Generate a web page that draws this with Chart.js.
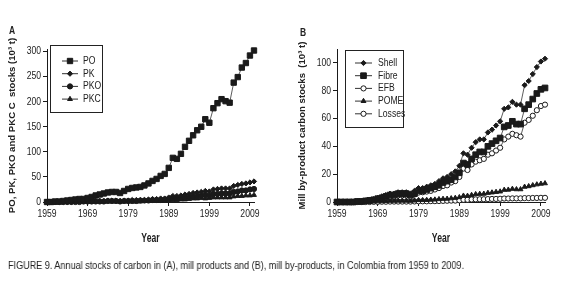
<!DOCTYPE html>
<html><head><meta charset="utf-8">
<script src="https://cdn.jsdelivr.net/npm/chart.js@4"></script>
<style>
html,body{margin:0;padding:0;background:#fff;width:574px;height:290px;overflow:hidden;}
#wa{position:absolute;left:0;top:0;width:290px;height:250px;}
#wb{position:absolute;left:290px;top:0;width:284px;height:250px;}
.lab{position:absolute;font-family:'Liberation Sans',sans-serif;font-weight:bold;font-size:10px;color:#222;transform:scaleX(0.85);transform-origin:left top;}
#cap{position:absolute;left:8px;top:260px;font-family:'Liberation Sans',sans-serif;font-size:10px;color:#222;white-space:nowrap;transform-origin:left top;will-change:transform;-webkit-font-smoothing:antialiased;}
</style></head><body>
<div id="wa"><canvas id="ca" width="290" height="250"></canvas></div>
<div id="wb"><canvas id="cb" width="284" height="250"></canvas></div>
<div class="lab" style="left:9px;top:25px;">A</div>
<div class="lab" style="left:300px;top:27px;">B</div>
<div id="cap"><span id="capt">FIGURE 9. Annual stocks of carbon in (A), mill products and (B), mill by-products, in Colombia from 1959 to 2009.</span></div>
<script>
// ---- data ----
const years = [];
for (let y = 1959; y <= 2010; y++) years.push(y);
const xTicks = [1959, 1969, 1979, 1989, 1999, 2009];
const yTicksA = [0, 50, 100, 150, 200, 250, 300];
const yTicksB = [0, 20, 40, 60, 80, 100];

// Panel A: mill products (10^3 t)
const PO  = [0,0,1,1,2,3,4,5,6,6,8,10,13,15,17,19,20,20,18,22,26,28,29,30,33,37,42,46,52,56,68,88,86,96,110,122,133,143,150,165,158,187,197,205,201,198,238,249,268,277,292,302];
const PK  = [0,0,0,0,0,0,0,1,1,1,1,1,2,2,2,3,3,3,2,3,3,4,4,4,4,5,6,6,7,7,9,12,12,13,15,16,18,19,20,22,21,25,26,27,27,27,32,34,36,37,39,41];
const PKO = [0,0,0,0,0,0,0,0,0,1,1,1,1,1,1,2,2,2,1,2,2,2,2,3,3,3,4,4,4,5,6,7,7,8,9,10,11,12,13,14,13,16,16,17,17,17,20,21,23,23,25,26];
const PKC = [0,0,0,0,0,0,0,0,0,0,0,0,1,1,1,1,1,1,1,1,1,1,1,1,2,2,2,2,2,3,4,4,4,5,5,6,7,7,8,7,8,9,9,9,9,9,11,12,12,13,13,14];

// Panel B: mill by-products (10^3 t)
const Shell  = [0,0,0,0,0,0.5,0.5,1,1.5,2,3,4,5,6,6,7,7,7,6,8,10,10,11,12,13,15,17,18,20,22,26,35,34,39,43,45,45,50,52,55,58,67,68,72,70,70,84,87,92,97,101,103];
const Fibre  = [0,0,0,0,0,0.4,0.4,0.8,1.2,1.6,2.4,3,4,5,5,6,6,6,5,6,8,8,9,10,11,12,14,15,16,18,21,28,27,31,34,36,36,40,42,44,46,54,55,58,56,56,67,70,74,78,81,82];
const EFB    = [0,0,0,0,0,0.3,0.3,0.7,1,1.4,2,2.7,3.4,4,4,4.8,4.8,4.8,4,5.4,6.8,7,7.5,8,9,10,11.5,12,14,15,18,24,23,27,29,30,31,34,35,37,39,45,47,49,48,47,57,59,62,66,69,70];
const POME   = [0,0,0,0,0,0,0,0,0,0.3,0.4,0.5,0.6,0.8,0.8,0.9,0.9,0.9,0.8,1,1.3,1.3,1.4,1.6,1.7,2,2.2,2.3,2.6,2.9,3.4,4.5,4.4,5,5.6,5.8,5.9,6.5,6.8,7.2,7.5,8.7,8.8,9.4,9.1,9.1,10.9,11.3,12,12.6,13.1,13.4];
const Losses = [0,0,0,0,0,0,0,0,0,0.1,0.1,0.2,0.2,0.3,0.3,0.3,0.3,0.3,0.3,0.4,0.5,0.5,0.5,0.6,0.6,0.7,0.8,0.9,1,1,1.2,1.6,1.6,1.8,1.9,2,2,2.1,2.2,2.2,2.3,2.5,2.5,2.6,2.6,2.6,2.8,2.8,2.9,2.9,3,3];

// ---- drawing ----
const NARROW = "'Liberation Sans', sans-serif";           // drawn condensed
const TITLEF = "'Liberation Sans', 'DejaVu Sans', sans-serif"; // drawn at normal width
const INK = '#1a1a1a';

// fit caption width to the reference's narrow face
(function(){
  const s = document.getElementById('capt');
  const w = s.getBoundingClientRect().width;
  document.getElementById('cap').style.transform = 'scaleX(' + (456 / w) + ')';
})();

const narrowText = {
  id: 'narrowText',
  beforeDraw(chart){
    const ctx = chart.ctx;
    if (ctx.__wrapped) return;
    ctx.__wrapped = true;
    const orig = ctx.fillText;
    ctx.fillText = function(t, x, y, mw){
      if (this.font.indexOf('DejaVu') >= 0) return orig.call(this, t, x, y);
      const sx = /bold/.test(this.font) ? 0.72 : 0.82;
      this.save(); this.translate(x, y); this.scale(sx, 1);
      orig.call(this, t, 0, 0);
      this.restore();
    };
  }
};

function pts(arr){ return arr.map((v,i)=>({x:years[i], y:v})); }
function ds(label, arr, style, r, fill){
  return {label, data: pts(arr), pointStyle: style, pointRadius: r, pointHoverRadius: r,
    borderColor: '#333', borderWidth: 0.8, pointBorderColor: INK, pointBorderWidth: 1,
    pointBackgroundColor: fill ? INK : '#fff', backgroundColor: fill ? INK : '#fff',
    tension: 0, clip: false};
}

const boxLegend = {
  id: 'boxLegend',
  afterDraw(chart, args, o){
    const ctx = chart.ctx;
    ctx.save();
    ctx.fillStyle = '#fff';
    ctx.fillRect(o.x, o.y, o.w, o.h);
    ctx.strokeStyle = '#222'; ctx.lineWidth = 1;
    ctx.strokeRect(o.x+0.5, o.y+0.5, o.w, o.h);
    chart.data.datasets.forEach((d, i) => {
      const y = o.row0 + i*o.step;
      ctx.strokeStyle = '#333'; ctx.lineWidth = 1;
      ctx.beginPath(); ctx.moveTo(o.lx0, y); ctx.lineTo(o.lx1, y); ctx.stroke();
      ctx.fillStyle = d.pointBackgroundColor; ctx.strokeStyle = d.pointBorderColor; ctx.lineWidth = 1;
      Chart.helpers.drawPoint(ctx, {pointStyle: d.pointStyle, radius: d.pointRadius, borderWidth: 1}, (o.lx0+o.lx1)/2, y);
      ctx.fillStyle = '#222'; ctx.font = '10.5px ' + NARROW; ctx.textBaseline = 'middle'; ctx.textAlign = 'left';
      ctx.fillText(d.label, o.tx, y);
    });
    ctx.restore();
  }
};

function makeChart(id, datasets, ymax, yTicks, ytitle, legend, padRight){
  return new Chart(document.getElementById(id), {
    type: 'line',
    data: {datasets},
    plugins: [narrowText, boxLegend],
    options: {
      responsive: false, animation: false,
      layout: {padding: {left: 7, top: 49, right: padRight, bottom: 0}},
      plugins: {legend: {display: false}, tooltip: {enabled: false}, boxLegend: legend},
      scales: {
        x: {type: 'linear', min: 1959, max: 2010,
          afterBuildTicks: s => { s.ticks = xTicks.map(v => ({value: v})); },
          afterFit: s => { s.height = 48; },
          grid: {display: true, drawOnChartArea: false, drawTicks: true, tickLength: 4, color: INK},
          border: {display: true, color: INK, width: 1},
          ticks: {color: '#222', font: {family: NARROW, size: 10.5}, padding: 2, maxRotation: 0, callback: v => String(v)},
          title: {display: true, text: 'Year', color: '#222', font: {family: NARROW, size: 12, weight: 'bold'}, padding: {top: 0, bottom: 4}}
        },
        y: {type: 'linear', min: 0, max: ymax,
          afterBuildTicks: s => { s.ticks = yTicks.map(v => ({value: v})); },
          afterFit: s => { s.width = 40; },
          grid: {display: true, drawOnChartArea: false, drawTicks: true, tickLength: 4, color: INK},
          border: {display: true, color: INK, width: 1},
          ticks: {color: '#222', font: {family: NARROW, size: 10.5}, padding: 2, callback: v => String(v)},
          title: {display: true, text: ytitle, color: '#222', font: {family: TITLEF, size: 9.6, weight: 'bold'}, padding: 0}
        }
      }
    }
  });
}

makeChart('ca', [
  ds('PO', PO, 'rect', 3.8, true),
  ds('PK', PK, 'rectRot', 2.6, true),
  ds('PKO', PKO, 'circle', 2.6, true),
  ds('PKC', PKC, 'triangle', 2.8, true)
], 305, yTicksA, 'PO, PK, PKO and PKC C  stocks (10\u00b3 t)',
  {x: 50, y: 45, w: 52, h: 67, lx0: 62, lx1: 78, tx: 83, row0: 61, step: 12.7}, 36);

makeChart('cb', [
  ds('Shell', Shell, 'rectRot', 2.6, true),
  ds('Fibre', Fibre, 'rect', 4, true),
  ds('EFB', EFB, 'circle', 2.6, false),
  ds('POME', POME, 'triangle', 2.8, true),
  ds('Losses', Losses, 'circle', 2.6, false)
], 110, yTicksB, 'Mill by-product carbon stocks  (10\u00b3 t)',
  {x: 55, y: 50, w: 58, h: 77, lx0: 65, lx1: 82, tx: 88, row0: 63, step: 12.7}, 29);
</script>
</body></html>
